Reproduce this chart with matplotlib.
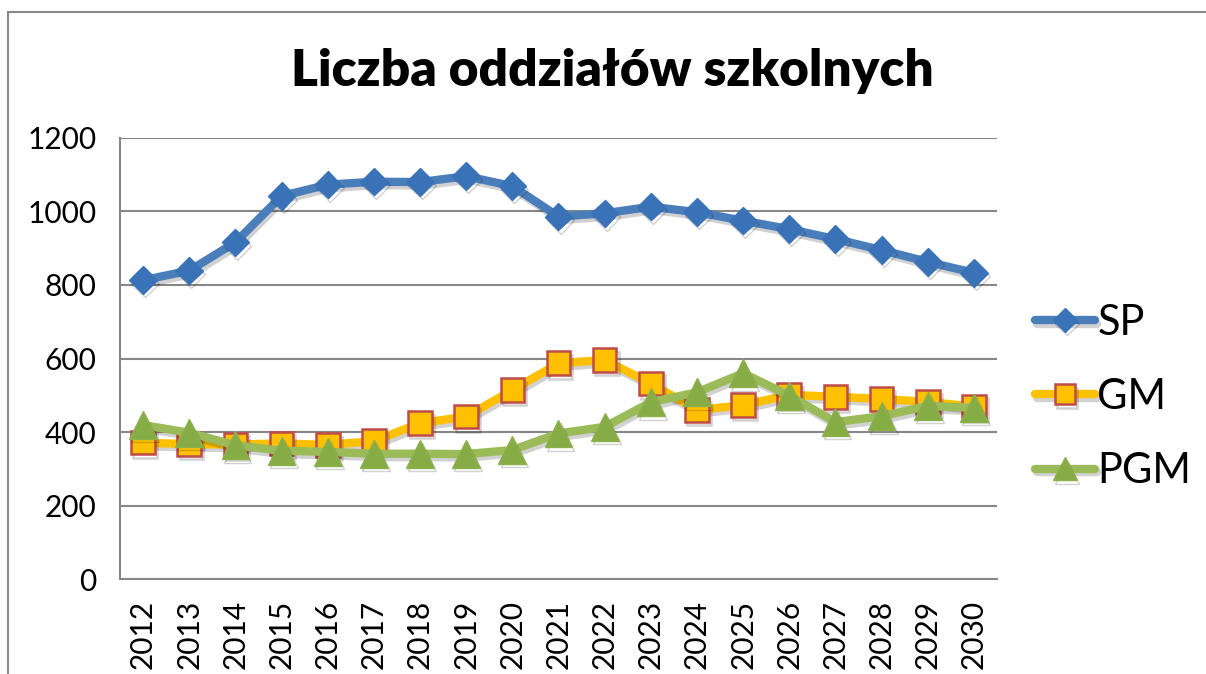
"""Liczba oddziałów szkolnych - line chart recreation."""

import matplotlib

matplotlib.use("Agg")
import matplotlib.pyplot as plt
from matplotlib.patches import Rectangle
import matplotlib.patheffects as pe

years = [str(y) for y in range(2012, 2031)]

sp = [813, 839, 916, 1042, 1073, 1081, 1080, 1096, 1069, 986,
      995, 1013, 998, 975, 952, 925, 895, 863, 833]
gm = [371, 367, 366, 369, 365, 375, 424, 442, 514, 587,
      596, 532, 460, 473, 501, 496, 490, 482, 469]
pgm = [419, 398, 364, 349, 346, 341, 341, 340, 351, 396,
       414, 481, 508, 560, 499, 427, 443, 471, 466]

y_ticks = [0, 200, 400, 600, 800, 1000, 1200]

plt.rcParams["font.family"] = ["Lato", "DejaVu Sans"]

fig = plt.figure(figsize=(12.06, 6.74), dpi=100)
ax = fig.add_axes([0.0995, 0.1409, 0.7272, 0.6544])

# outer chart frame
fig.patches.append(Rectangle((8 / 1206, -0.1), 1.2, 1 - 12 / 674 + 0.1,
                             transform=fig.transFigure, fill=False,
                             edgecolor="#898989", linewidth=1.5))

shadow = [pe.SimpleLineShadow(offset=(1.5, -2.5), shadow_color="black",
                              alpha=0.18), pe.Normal()]
x = range(len(years))

ax.plot(x, sp, color="#4A7EBB", linewidth=6, marker="D", markersize=14,
        markerfacecolor="#3A72B8", markeredgecolor="#3A72B8",
        solid_capstyle="round", label="SP", path_effects=shadow)
ax.plot(x, gm, color="#FFC000", linewidth=6, marker="s", markersize=17,
        markerfacecolor="#FFC000", markeredgecolor="#BE4B48",
        markeredgewidth=1.8, solid_capstyle="round", label="GM",
        path_effects=shadow)
ax.plot(x, pgm, color="#9BBB59", linewidth=6, marker="^", markersize=20,
        markerfacecolor="#86AD45", markeredgecolor="#8DB04E",
        solid_capstyle="round", label="PGM", path_effects=shadow)

ax.set_xlim(-0.5, len(years) - 0.5)
ax.set_ylim(0, 1200)
ax.set_yticks(y_ticks)
ax.set_xticks(list(x))
ax.set_xticklabels(years, rotation=90)
ax.tick_params(axis="both", length=0, labelsize=21.5)
ax.tick_params(axis="y", pad=17)
ax.tick_params(axis="x", pad=15)

ax.grid(axis="y", color="#878787", linewidth=1.5)
ax.set_axisbelow(True)
for side in ["top", "right"]:
    ax.spines[side].set_visible(False)
for side in ["left", "bottom"]:
    ax.spines[side].set_color("#878787")
    ax.spines[side].set_linewidth(1.5)

fig.text(0.508, 0.895, "Liczba oddziałów szkolnych", ha="center",
         va="center", fontsize=37, fontweight="heavy")

ax.legend(loc="center left", bbox_to_anchor=(0.858, 0.411),
          bbox_transform=fig.transFigure, frameon=False, fontsize=30,
          handlelength=1.45, handletextpad=0.05, labelspacing=0.87,
          borderpad=0, borderaxespad=0, markerscale=0.85)

fig.savefig("out.png", dpi=100)
plt.close(fig)
